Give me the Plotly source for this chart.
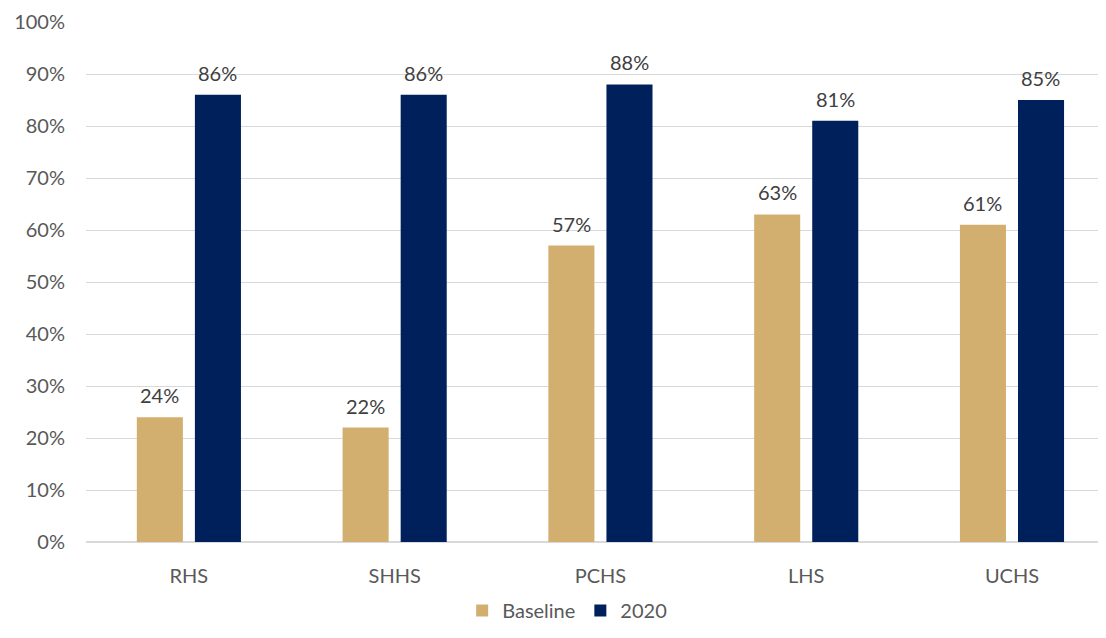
import plotly.graph_objects as go

categories = ["RHS", "SHHS", "PCHS", "LHS", "UCHS"]
baseline = [0.24, 0.22, 0.57, 0.63, 0.61]
y2020 = [0.86, 0.86, 0.88, 0.81, 0.85]
series_names = ["Baseline", "2020"]
colors = ["#D3AF6F", "#00205B"]
y_ticks = [i / 10 for i in range(11)]
y_tick_labels = [f"{i*10}%" for i in range(11)]

FONT = "Lato"
FS = 20
fig = go.Figure()
for name, vals, col in zip(series_names, [baseline, y2020], colors):
    fig.add_trace(go.Bar(x=categories, y=vals, name=name, marker=dict(color=col, line=dict(width=0)),
                         hoverinfo="skip"))

# data labels
for i, (vals, shift) in enumerate([(baseline, -29), (y2020, 29)]):
    for c, v in zip(categories, vals):
        fig.add_annotation(x=c, y=v, text=f"{round(v*100)}%", showarrow=False,
                           xshift=shift, yshift=22, yanchor="middle",
                           font=dict(family=FONT, size=FS, color="#404040"))

fig.update_layout(
    width=1090, height=622,
    margin=dict(l=78, r=0, t=14, b=88),
    paper_bgcolor="white", plot_bgcolor="white",
    barmode="group", bargap=0.4355, bargroupgap=0.207,
    font=dict(family=FONT, size=FS, color="#595959"),
    showlegend=True,
    legend=dict(orientation="h", xref="container", yref="container", x=0.513, y=0.0,
                xanchor="center", yanchor="bottom", font=dict(family=FONT, size=FS, color="#595959"),
                itemwidth=30, tracegroupgap=0),
    xaxis=dict(range=[-0.5, 4.418], showgrid=False, showline=False, zeroline=False, automargin=False,
               ticks="", ticklabelstandoff=20, tickfont=dict(family=FONT, size=FS, color="#595959")),
    yaxis=dict(range=[0, 1.0], tickvals=y_ticks, ticktext=y_tick_labels, showgrid=True, automargin=False,
               gridcolor="#D9D9D9", gridwidth=1.3, zeroline=True, zerolinecolor="#D9D9D9", zerolinewidth=1.5,
               showline=False, ticks="", ticklabelstandoff=20,
               tickfont=dict(family=FONT, size=FS, color="#595959")),
)
fig.write_html("out.html")
